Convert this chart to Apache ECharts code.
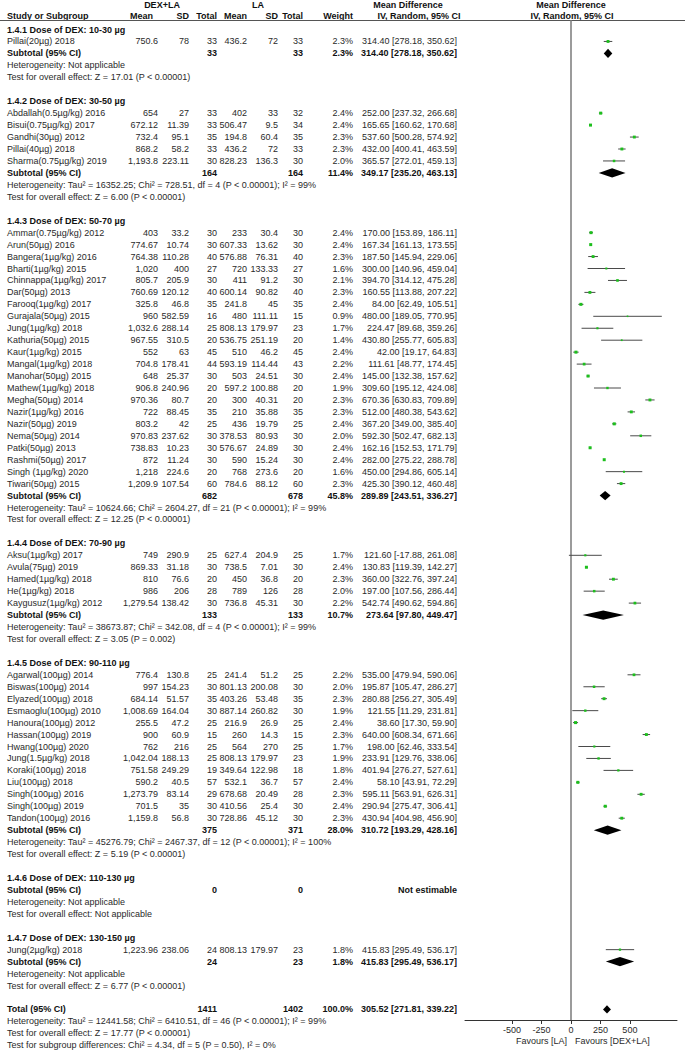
<!DOCTYPE html>
<html><head><meta charset="utf-8">
<script src="https://cdn.jsdelivr.net/npm/echarts@6/dist/echarts.min.js"></script>
<style>html,body{margin:0;padding:0;background:#fff}#c{width:685px;height:1051px}</style>
</head><body><div id="c"></div>
<script>
// ---------------- DATA ----------------
const groupTitles = [
  "1.4.1 Dose of DEX: 10-30 µg","1.4.2 Dose of DEX: 30-50 µg","1.4.3 Dose of DEX: 50-70 µg",
  "1.4.4 Dose of DEX: 70-90 µg","1.4.5 Dose of DEX: 90-110 µg","1.4.6 Dose of DEX: 110-130 µg",
  "1.4.7 Dose of DEX: 130-150 µg"];
const studyNames = [
  "Pillai(20µg) 2018",
  "Abdallah(0.5µg/kg) 2016","Bisui(0.75µg/kg) 2017","Gandhi(30µg) 2012","Pillai(40µg) 2018","Sharma(0.75µg/kg) 2019",
  "Ammar(0.75µg/kg) 2012","Arun(50µg) 2016","Bangera(1µg/kg) 2016","Bharti(1µg/kg) 2015","Chinnappa(1µg/kg) 2017",
  "Dar(50µg) 2013","Farooq(1µg/kg) 2017","Gurajala(50µg) 2015","Jung(1µg/kg) 2018","Kathuria(50µg) 2015",
  "Kaur(1µg/kg) 2015","Mangal(1µg/kg) 2018","Manohar(50µg) 2015","Mathew(1µg/kg) 2018","Megha(50µg) 2014",
  "Nazir(1µg/kg) 2016","Nazir(50µg) 2019","Nema(50µg) 2014","Patki(50µg) 2013","Rashmi(50µg) 2017",
  "Singh (1µg/kg) 2020","Tiwari(50µg) 2015",
  "Aksu(1µg/kg) 2017","Avula(75µg) 2019","Hamed(1µg/kg) 2018","He(1µg/kg) 2018","Kaygusuz(1µg/kg) 2012",
  "Agarwal(100µg) 2014","Biswas(100µg) 2014","Elyazed(100µg) 2018","Esmaoglu(100µg) 2010","Hanoura(100µg) 2012",
  "Hassan(100µg) 2019","Hwang(100µg) 2020","Jung(1.5µg/kg) 2018","Koraki(100µg) 2018","Liu(100µg) 2018",
  "Singh(100µg) 2016","Singh(100µg) 2019","Tandon(100µg) 2016",
  "Jung(2µg/kg) 2018"];
const studyGroup = [0, 1,1,1,1,1,
  2,2,2,2,2,2,2,2,2,2,2,2,2,2,2,2,2,2,2,2,2,2,
  3,3,3,3,3,
  4,4,4,4,4,4,4,4,4,4,4,4,4,
  6];
const dexMean = [750.6, 654,672.12,732.4,868.2,1193.8,
  403,774.67,764.38,1020,805.7,760.69,325.8,960,1032.6,967.55,552,704.8,648,906.8,970.36,722,803.2,970.83,738.83,872,1218,1209.9,
  749,869.33,810,986,1279.54,
  776.4,997,684.14,1008.69,255.5,900,762,1042.04,751.58,590.2,1273.79,701.5,1159.8,
  1223.96];
const dexSD = [78, 27,11.39,95.1,58.2,223.11,
  33.2,10.74,110.28,400,205.9,120.12,46.8,582.59,288.14,310.5,63,178.41,25.37,240.96,80.7,88.45,42,237.62,10.23,11.24,224.6,107.54,
  290.9,31.18,76.6,206,138.42,
  130.8,154.23,51.57,164.04,47.2,60.9,216,188.13,249.29,40.5,83.14,35,56.8,
  238.06];
const dexN = [33, 33,33,35,33,30,
  30,30,40,27,30,40,35,16,25,20,45,44,30,20,20,35,25,30,30,30,20,60,
  25,30,20,28,30,
  25,30,35,30,25,15,25,25,19,57,29,30,30,
  24];
const laMean = [436.2, 402,506.47,194.8,436.2,828.23,
  233,607.33,576.88,720,411,600.14,241.8,480,808.13,536.75,510,593.19,503,597.2,300,210,436,378.53,576.67,590,768,784.6,
  627.4,738.5,450,789,736.8,
  241.4,801.13,403.26,887.14,216.9,260,564,808.13,349.64,532.1,678.68,410.56,728.86,
  808.13];
const laSD = [72, 33,9.5,60.4,72,136.3,
  30.4,13.62,76.31,133.33,91.2,90.82,45,111.11,179.97,251.19,46.2,114.44,24.51,100.88,40.31,35.88,19.79,80.93,24.89,15.24,273.6,88.12,
  204.9,7.01,36.8,126,45.31,
  51.2,200.08,53.48,260.82,26.9,14.3,270,179.97,122.98,36.7,20.49,25.4,45.12,
  179.97];
const laN = [33, 32,34,35,33,30,
  30,30,40,27,30,40,35,15,23,20,45,43,30,20,20,35,25,30,30,30,20,60,
  25,30,20,28,30,
  25,30,35,30,25,15,25,23,18,57,28,30,30,
  23];
const studyWeight = [2.3, 2.4,2.4,2.3,2.3,2.0,
  2.4,2.4,2.3,1.6,2.1,2.3,2.4,0.9,1.7,1.4,2.4,2.2,2.4,1.9,2.3,2.3,2.4,2.0,2.4,2.4,1.6,2.3,
  1.7,2.4,2.3,2.0,2.2,
  2.2,2.0,2.3,1.9,2.4,2.3,1.7,1.9,1.8,2.4,2.3,2.4,2.3,
  1.8];
const studyMD = [314.40, 252.00,165.65,537.60,432.00,365.57,
  170.00,167.34,187.50,300.00,394.70,160.55,84.00,480.00,224.47,430.80,42.00,111.61,145.00,309.60,670.36,512.00,367.20,592.30,162.16,282.00,450.00,425.30,
  121.60,130.83,360.00,197.00,542.74,
  535.00,195.87,280.88,121.55,38.60,640.00,198.00,233.91,401.94,58.10,595.11,290.94,430.94,
  415.83];
const studyLow = [278.18, 237.32,160.62,500.28,400.41,272.01,
  153.89,161.13,145.94,140.96,314.12,113.88,62.49,189.05,89.68,255.77,19.17,48.77,132.38,195.12,630.83,480.38,349.00,502.47,152.53,275.22,294.86,390.12,
  -17.88,119.39,322.76,107.56,490.62,
  479.94,105.47,256.27,11.29,17.30,608.34,62.46,129.76,276.27,43.91,563.91,275.47,404.98,
  295.49];
const studyHigh = [350.62, 266.68,170.68,574.92,463.59,459.13,
  186.11,173.55,229.06,459.04,475.28,207.22,105.51,770.95,359.26,605.83,64.83,174.45,157.62,424.08,709.89,543.62,385.40,682.13,171.79,288.78,605.14,460.48,
  261.08,142.27,397.24,286.44,594.86,
  590.06,286.27,305.49,231.81,59.90,671.66,333.54,338.06,527.61,72.29,626.31,306.41,456.90,
  536.17];
const subDexN = [33,164,682,133,375,0,24];
const subLaN = [33,164,678,133,371,0,23];
const subWeight = [2.3,11.4,45.8,10.7,28.0,null,1.8];
const subMD = [314.40,349.17,289.89,273.64,310.72,null,415.83];
const subLow = [278.18,235.20,243.51,97.80,193.29,null,295.49];
const subHigh = [350.62,463.13,336.27,449.47,428.16,null,536.17];
const subHet = [
  "Heterogeneity: Not applicable",
  "Heterogeneity: Tau² = 16352.25; Chi² = 728.51, df = 4 (P < 0.00001); I² = 99%",
  "Heterogeneity: Tau² = 10624.66; Chi² = 2604.27, df = 21 (P < 0.00001); I² = 99%",
  "Heterogeneity: Tau² = 38673.87; Chi² = 342.08, df = 4 (P < 0.00001); I² = 99%",
  "Heterogeneity: Tau² = 45276.79; Chi² = 2467.37, df = 12 (P < 0.00001); I² = 100%",
  "Heterogeneity: Not applicable",
  "Heterogeneity: Not applicable"];
const subTest = [
  "Test for overall effect: Z = 17.01 (P < 0.00001)",
  "Test for overall effect: Z = 6.00 (P < 0.00001)",
  "Test for overall effect: Z = 12.25 (P < 0.00001)",
  "Test for overall effect: Z = 3.05 (P = 0.002)",
  "Test for overall effect: Z = 5.19 (P < 0.00001)",
  "Test for overall effect: Not applicable",
  "Test for overall effect: Z = 6.77 (P < 0.00001)"];
const totalN = [1411, 1402];
const totalWeight = 100.0;
const totalEffect = [305.52, 271.81, 339.22];
const totalNotes = [
  "Heterogeneity: Tau² = 12441.58; Chi² = 6410.51, df = 46 (P < 0.00001); I² = 99%",
  "Test for overall effect: Z = 17.77 (P < 0.00001)",
  "Test for subgroup differences: Chi² = 4.34, df = 5 (P = 0.50), I² = 0%"];
const xTicks = [-500, -250, 0, 250, 500];
const favourLabels = ["Favours [LA]", "Favours [DEX+LA]"];

// ---------------- LAYOUT ----------------
const FONT = '"Liberation Sans", Arial, sans-serif';
const FS = 9;
const X = {name:7, dm:158, ds:189, dn:217, lm:247, ls:278, ln:303, w:353, md:457};
const PLOT_LEFT = 465, PLOT_RIGHT = 677, PLOT_TOP = 20, PLOT_BOTTOM = 1020;
const ROW0 = 29.5, PITCH = 11.95;
const yMin = (PLOT_TOP - ROW0) / PITCH, yMax = (PLOT_BOTTOM - ROW0) / PITCH;

const numFmt = v => v.toLocaleString('en-US', {maximumFractionDigits: 2});
const ciFmt = (m, l, h) => m.toFixed(2) + ' [' + l.toFixed(2) + ', ' + h.toFixed(2) + ']';

const rows = [];
for (let g = 0; g < groupTitles.length; g++) {
  rows.push({k:'group', g});
  studyGroup.forEach((sg, i) => { if (sg === g) rows.push({k:'study', i}); });
  rows.push({k:'sub', g});
  rows.push({k:'note', text: subHet[g]});
  rows.push({k:'note', text: subTest[g]});
  rows.push({k:'blank'});
}
rows.push({k:'total'});
totalNotes.forEach(t => rows.push({k:'note', text: t}));

const studyRow = [], subRow = [];
rows.forEach((r, idx) => { if (r.k === 'study') studyRow[r.i] = idx; if (r.k === 'sub') subRow[r.g] = idx; });
const totalRow = rows.findIndex(r => r.k === 'total');

function T(x, y, s, align, bold) {
  return {type:'text', x:x, y:y, style:{text:s, align:align, verticalAlign:'middle',
    font:(bold ? 'bold ' : '') + FS + 'px ' + FONT, fill: bold ? '#111' : '#2a2a2a'}};
}

const studyData = studyMD.map((m, i) => [m, studyLow[i], studyHigh[i], studyRow[i], studyWeight[i]]);
const diamondData = [];
subMD.forEach((m, g) => { if (m != null) diamondData.push([m, subLow[g], subHigh[g], subRow[g], 4.6]); });
diamondData.push([totalEffect[0], totalEffect[1], totalEffect[2], totalRow, 4.2]);

const chart = echarts.init(document.getElementById('c'), null, {renderer:'svg'});
chart.setOption({
  animation: false,
  backgroundColor: '#fff',
  grid: {left: PLOT_LEFT, right: 685 - PLOT_RIGHT, top: PLOT_TOP, bottom: 1051 - PLOT_BOTTOM},
  xAxis: {type:'value', min:-900, max:900, position:'bottom',
    axisLine:{show:true, onZero:false, lineStyle:{color:'#333', width:1}},
    axisTick:{show:true, customValues:xTicks, length:4, lineStyle:{color:'#333'}},
    axisLabel:{customValues:xTicks, margin:5, fontSize:FS, fontFamily:FONT, color:'#2a2a2a'},
    splitLine:{show:false}},
  yAxis: {type:'value', inverse:true, min:yMin, max:yMax, show:false},
  graphic: [
    {type:'line', shape:{x1:0, y1:20.5, x2:685, y2:20.5}, style:{stroke:'#555', lineWidth:1}, z:1},
    T(162, 5, 'DEX+LA', 'center', true),
    T(258, 5, 'LA', 'center', true),
    T(408, 5, 'Mean Difference', 'center', true),
    T(571, 5, 'Mean Difference', 'center', true),
    T(X.name, 15.5, 'Study or Subgroup', 'left', true),
    T(153, 15.5, 'Mean', 'right', true),
    T(X.ds, 15.5, 'SD', 'right', true),
    T(X.dn, 15.5, 'Total', 'right', true),
    T(X.lm, 15.5, 'Mean', 'right', true),
    T(X.ls, 15.5, 'SD', 'right', true),
    T(X.ln, 15.5, 'Total', 'right', true),
    T(X.w, 15.5, 'Weight', 'right', true),
    T(419, 15.5, 'IV, Random, 95% CI', 'center', true),
    T(572, 15.5, 'IV, Random, 95% CI', 'center', true),
    T(567, 1041, favourLabels[0], 'right', false),
    T(575, 1041, favourLabels[1], 'left', false)
  ],
  series: [
    {
      type:'custom', clip:false, silent:true, data:[[0]],
      encode:{x:0},
      renderItem: function (params, api) {
        const cs = params.coordSys;
        const x = api.coord([api.value(0), yMin])[0];
        return {type:'line', shape:{x1:x, y1:cs.y, x2:x, y2:cs.y + cs.height},
          style:{stroke:'#7a7a7a', lineWidth:1.5}};
      }
    },
    {
      type:'custom', clip:false, silent:true,
      data: rows.map((r, i) => [0, i]),
      encode:{x:0, y:1},
      renderItem: function (params, api) {
        const r = rows[params.dataIndex];
        const y = api.coord([0, api.value(1)])[1];
        const c = [];
        if (r.k === 'group') c.push(T(X.name, y, groupTitles[r.g], 'left', true));
        else if (r.k === 'study') {
          const i = r.i;
          c.push(T(X.name, y, studyNames[i], 'left', false));
          c.push(T(X.dm, y, numFmt(dexMean[i]), 'right', false));
          c.push(T(X.ds, y, numFmt(dexSD[i]), 'right', false));
          c.push(T(X.dn, y, String(dexN[i]), 'right', false));
          c.push(T(X.lm, y, numFmt(laMean[i]), 'right', false));
          c.push(T(X.ls, y, numFmt(laSD[i]), 'right', false));
          c.push(T(X.ln, y, String(laN[i]), 'right', false));
          c.push(T(X.w, y, studyWeight[i].toFixed(1) + '%', 'right', false));
          c.push(T(X.md, y, ciFmt(studyMD[i], studyLow[i], studyHigh[i]), 'right', false));
        } else if (r.k === 'sub') {
          const g = r.g;
          c.push(T(X.name, y, 'Subtotal (95% CI)', 'left', true));
          c.push(T(X.dn, y, String(subDexN[g]), 'right', true));
          c.push(T(X.ln, y, String(subLaN[g]), 'right', true));
          if (subMD[g] != null) {
            c.push(T(X.w, y, subWeight[g].toFixed(1) + '%', 'right', true));
            c.push(T(X.md, y, ciFmt(subMD[g], subLow[g], subHigh[g]), 'right', true));
          } else {
            c.push(T(X.md, y, 'Not estimable', 'right', true));
          }
        } else if (r.k === 'total') {
          c.push(T(X.name, y, 'Total (95% CI)', 'left', true));
          c.push(T(X.dn, y, String(totalN[0]), 'right', true));
          c.push(T(X.ln, y, String(totalN[1]), 'right', true));
          c.push(T(X.w, y, totalWeight.toFixed(1) + '%', 'right', true));
          c.push(T(X.md, y, ciFmt(totalEffect[0], totalEffect[1], totalEffect[2]), 'right', true));
        } else if (r.k === 'note') {
          c.push(T(X.name, y, r.text, 'left', false));
        }
        return {type:'group', children:c};
      }
    },
    {
      type:'custom', clip:false, silent:true,
      data: studyData,
      encode:{x:0, y:3},
      renderItem: function (params, api) {
        const lo = api.coord([api.value(1), api.value(3)]);
        const hi = api.coord([api.value(2), api.value(3)]);
        const p = api.coord([api.value(0), api.value(3)]);
        const s = Math.max(1.6, api.value(4) * 1.25);
        return {type:'group', children:[
          {type:'line', shape:{x1:lo[0], y1:lo[1], x2:hi[0], y2:hi[1]}, style:{stroke:'#4a4a4a', lineWidth:1}},
          {type:'rect', shape:{x:p[0] - s / 2, y:p[1] - s / 2, width:s, height:s}, style:{fill:'#1dbf1d'}}
        ]};
      }
    },
    {
      type:'custom', clip:false, silent:true,
      data: diamondData,
      encode:{x:0, y:3},
      renderItem: function (params, api) {
        const m = api.coord([api.value(0), api.value(3)]);
        const l = api.coord([api.value(1), api.value(3)]);
        const h = api.coord([api.value(2), api.value(3)]);
        const hh = api.value(4);
        return {type:'polygon', shape:{points:[[l[0], m[1]], [m[0], m[1] - hh], [h[0], m[1]], [m[0], m[1] + hh]]},
          style:{fill:'#000'}};
      }
    }
  ]
});
</script></body></html>
